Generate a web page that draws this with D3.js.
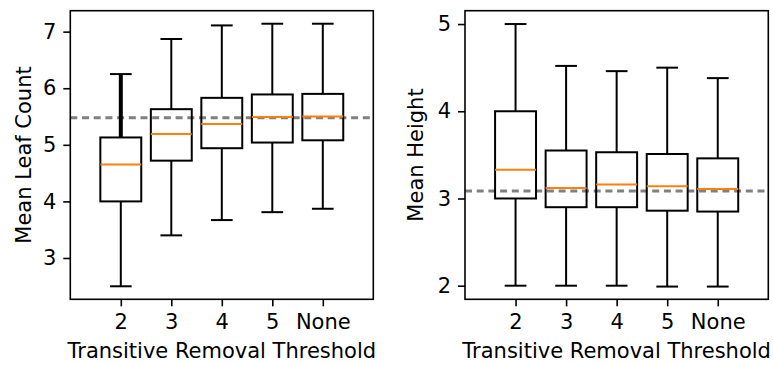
<!DOCTYPE html>
<html>
<head>
<meta charset="utf-8">
<script src="https://cdn.jsdelivr.net/npm/d3@7"></script>
<style>
  body { margin: 0; background: #fff; }
  svg { display: block; }
  text { font-family: "DejaVu Sans", sans-serif; fill: #000; }
</style>
</head>
<body>
<svg id="chart" width="773" height="365"></svg>
<script>
const THRESHOLDS = ["2", "3", "4", "5", "None"];

// [low whisker, q1, median, q3, high whisker]
const LEAF_STATS = [
  [2.50, 4.00, 4.65, 5.13, 6.25],
  [3.40, 4.72, 5.19, 5.63, 6.87],
  [3.67, 4.94, 5.37, 5.83, 7.11],
  [3.81, 5.04, 5.49, 5.89, 7.14],
  [3.87, 5.08, 5.50, 5.90, 7.14],
];
const LEAF_REF = 5.48;
const LEAF_TICKS = [3, 4, 5, 6, 7];

const HEIGHT_STATS = [
  [2.00, 3.00, 3.33, 4.00, 5.00],
  [2.00, 2.90, 3.12, 3.55, 4.52],
  [2.00, 2.90, 3.16, 3.53, 4.46],
  [1.99, 2.86, 3.14, 3.51, 4.50],
  [1.99, 2.85, 3.11, 3.46, 4.38],
];
const HEIGHT_REF = 3.085;
const HEIGHT_TICKS = [2, 3, 4, 5];

const svg = d3.select("#chart");
const plotTop = 10.7, plotBottom = 299.3;
const FONT = "21px";

function drawPanel(opts) {
  const g = svg.append("g");

  const x = d3.scaleLinear().domain([0, 6]).range([opts.left, opts.right]);
  const y = d3.scaleLinear().domain(opts.yDomain).range([plotBottom, plotTop]);

  const boxW = x(0.81) - x(0);
  const capW = x(0.43) - x(0);

  // reference line
  g.append("line")
    .attr("x1", opts.left).attr("x2", opts.right)
    .attr("y1", y(opts.ref)).attr("y2", y(opts.ref))
    .attr("stroke", "#808080")
    .attr("stroke-width", 3)
    .attr("stroke-dasharray", "7,4.7");

  const boxes = g.selectAll(".box")
    .data(opts.stats)
    .enter()
    .append("g")
    .classed("box", true)
    .attr("transform", (d, i) => `translate(${x(i + 1)},0)`);

  // whiskers
  boxes.append("line")
    .attr("x1", 0).attr("x2", 0)
    .attr("y1", (d) => y(d[0])).attr("y2", (d) => y(d[1]))
    .attr("stroke", "#000").attr("stroke-width", 2);
  boxes.append("line")
    .attr("x1", 0).attr("x2", 0)
    .attr("y1", (d) => y(d[3])).attr("y2", (d) => y(d[4]))
    .attr("stroke", "#000")
    .attr("stroke-width", (d, i) => (opts.thickFirst && i === 0 ? 4 : 2));

  // caps
  boxes.selectAll(".cap")
    .data((d) => [d[0], d[4]])
    .enter()
    .append("line")
    .attr("x1", -capW / 2).attr("x2", capW / 2)
    .attr("y1", (v) => y(v)).attr("y2", (v) => y(v))
    .attr("stroke", "#000").attr("stroke-width", 2);

  // box
  boxes.append("rect")
    .attr("x", -boxW / 2)
    .attr("width", boxW)
    .attr("y", (d) => y(d[3]))
    .attr("height", (d) => y(d[1]) - y(d[3]))
    .attr("fill", "none")
    .attr("stroke", "#000").attr("stroke-width", 2);

  // median
  boxes.append("line")
    .attr("x1", -boxW / 2).attr("x2", boxW / 2)
    .attr("y1", (d) => y(d[2])).attr("y2", (d) => y(d[2]))
    .attr("stroke", "#ff7f0e").attr("stroke-width", 2);

  // frame
  g.append("rect")
    .attr("x", opts.left).attr("y", plotTop)
    .attr("width", opts.right - opts.left)
    .attr("height", plotBottom - plotTop)
    .attr("fill", "none")
    .attr("stroke", "#000").attr("stroke-width", 1.6);

  // axes
  const xAxis = d3.axisBottom(x)
    .tickValues([1, 2, 3, 4, 5])
    .tickFormat((d) => THRESHOLDS[d - 1])
    .tickSize(7).tickPadding(8);
  const xg = g.append("g").attr("transform", `translate(0,${plotBottom})`).call(xAxis);

  const yAxis = d3.axisLeft(y)
    .tickValues(opts.ticks)
    .tickFormat(d3.format("d"))
    .tickSize(7).tickPadding(7);
  const yg = g.append("g").attr("transform", `translate(${opts.left},0)`).call(yAxis);

  [xg, yg].forEach((a) => {
    a.select(".domain").remove();
    a.selectAll(".tick line").attr("stroke", "#000").attr("stroke-width", 1.6);
    a.selectAll(".tick text")
      .style("font-family", "DejaVu Sans")
      .style("font-size", FONT)
      .attr("fill", "#000");
  });

  // labels
  g.append("text")
    .attr("x", (opts.left + opts.right) / 2)
    .attr("y", 358)
    .attr("text-anchor", "middle")
    .style("font-size", FONT)
    .text("Transitive Removal Threshold");

  g.append("text")
    .attr("transform", `translate(${opts.yLabelX},${(plotTop + plotBottom) / 2}) rotate(-90)`)
    .attr("text-anchor", "middle")
    .style("font-size", FONT)
    .text(opts.yLabel);
}

drawPanel({
  left: 70.3, right: 373.3,
  yDomain: [2.27, 7.37],
  stats: LEAF_STATS, ref: LEAF_REF, ticks: LEAF_TICKS,
  yLabel: "Mean Leaf Count", yLabelX: 31, thickFirst: true,
});

drawPanel({
  left: 465, right: 768.3,
  yDomain: [1.844, 5.153],
  stats: HEIGHT_STATS, ref: HEIGHT_REF, ticks: HEIGHT_TICKS,
  yLabel: "Mean Height", yLabelX: 423,
});
</script>
</body>
</html>
